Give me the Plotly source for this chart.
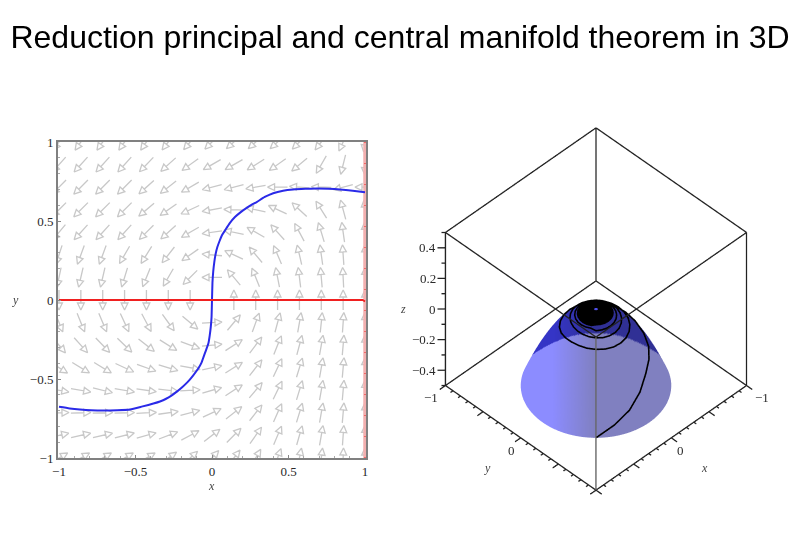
import numpy as np
import plotly.graph_objects as go

TITLE = "Reduction principal and central manifold theorem in 3D"
GRID = [-1 + i / 7 for i in range(15)]
GRID_Y = GRID[::-1]
ARROW_ANGLES = [
 [235,235,235,235,235,232,230,225,222,222,222,225,232,245,262],
 [228,228,228,228,226,222,216,210,210,212,215,220,240,256,268],
 [225,225,225,225,222,218,210,195,195,190,180,175,178,195,180],
 [225,225,225,225,220,215,205,190,178,167,155,137,122,105,95],
 [230,228,228,228,225,222,210,188,168,150,132,118,107,98,92],
 [252,250,250,240,238,232,215,175,155,130,113,103,98,94,90],
 [258,257,257,253,248,240,225,180,130,112,101,97,95,93,90],
 [270,270,270,270,270,270,270,None,90,90,90,90,90,90,90],
 [292,292,293,295,298,306,320,3,50,70,75,80,84,86,90],
 [310,312,314,316,322,328,340,6,33,53,68,75,80,85,90],
 [328,329,329,335,340,343,350,12,32,52,65,73,80,85,90],
 [350,350,346,350,352,353,3,16,33,50,64,73,80,85,90],
 [2,2,2,2,3,8,15,25,38,52,66,73,80,85,90],
 [13,13,13,14,15,21,28,38,45,55,67,74,80,86,90],
 [30,30,30,30,30,35,42,48,52,60,70,78,83,88,90],
]
BLUE_X = [-1,-0.93,-0.863,-0.79,-0.71,-0.62,-0.536,-0.46,-0.383,-0.34,-0.3,-0.265,-0.23,-0.195,-0.16,-0.125,-0.09,-0.07,-0.055,-0.04,-0.024,-0.015,-0.008,-0.003,0,
          0.003,0.008,0.015,0.024,0.035,0.05,0.065,0.085,0.115,0.15,0.19,0.227,0.26,0.292,0.345,0.4,0.465,0.53,0.61,0.684,0.76,0.837,0.92,1]
BLUE_Y = [-0.676,-0.686,-0.693,-0.698,-0.70,-0.698,-0.693,-0.675,-0.655,-0.642,-0.625,-0.605,-0.58,-0.552,-0.52,-0.48,-0.434,-0.40,-0.36,-0.32,-0.276,-0.225,-0.17,-0.11,0,
          0.11,0.18,0.24,0.293,0.335,0.375,0.41,0.44,0.485,0.525,0.558,0.583,0.603,0.62,0.652,0.676,0.692,0.70,0.704,0.705,0.704,0.70,0.692,0.682]
RED_X = [-1, 0.985, 1]
RED_Y = [0, 0, -0.01]
EDGE_X = [1, 1]
EDGE_Y = [-1, 1]
TICKS_2D = [-1, -0.5, 0, 0.5, 1]
TICK_TEXT_2D = ["\u22121", "\u22120.5", "0", "0.5", "1"]

PROFILE_R = [0,.01,.02,.03,.04,.05,.06,.07,.08,.09,.10,.11,.12,.13,.14,.15,.16,.17,.18,.19,.20,.21,.22,.23,.24,.25,.26,.27,.28,.29,
             .30,.31,.32,.33,.34,.35,.36,.37,.38,.39,.40,.41,.42,.43,.44,.45,.46,.47,.48,.49,.50,.51,.52,.53,.54,.55,.56,.57,.58,.59,
             .60,.61,.62,.63,.64,.65,.66,.67,.68,.69,.70,.707]
PROFILE_Z = [0,-.0001,-.0004,-.0009,-.0016,-.0025,-.0036,-.0049,-.0064,-.0081,-.01,-.0121,-.0144,-.0169,-.0196,-.0225,-.0256,-.0289,-.0324,-.0361,
             -.04,-.0441,-.0484,-.0529,-.0576,-.0625,-.0676,-.0729,-.0784,-.0841,-.09,-.0961,-.1024,-.1089,-.1156,-.1225,-.1296,-.1369,-.1444,-.1521,
             -.16,-.1681,-.1764,-.1849,-.1936,-.2025,-.2116,-.2209,-.2304,-.2401,-.25,-.2601,-.2704,-.2809,-.2916,-.3025,-.3136,-.3249,-.3364,-.3481,
             -.36,-.3721,-.3844,-.3969,-.4096,-.4225,-.4356,-.4489,-.4624,-.4761,-.49,-.5]
TRAJ_R = [.707,.668,.630,.585,.54,.515,.495,.465,.425,.395,.375,.362,.356,.354,.352,.350,.348,.346,.344,.338,.330,.324,.322,.324,
          .326,.329,.331,.330,.328,.323,.318,.313,.306,.300,.295,.290,.285,.278,.270,.262,.254,.248,.245,.243,.243,.245,.248,.252,
          .255,.258,.258,.256,.252,.246,.240,.235,.230,.226,.222,.219,.216,.213,.210,.207,.204,.202,.200,.198,.196,.194,.192,.190,
          .206,.204,.202,.200,.198,.196,.194,.192,.190,.188,.186,.184,.182,.180,.178,.177,.176,.175,.174,.173,.172,.171,.170,.169]
CORE_R = [.160,.153,.147,.141,.135,.129,.123,.117,.111,.105,.099,.093,.087,.081,.075,.069,.063,.057,.051,.045,.039,.033,.027]
Z_TICKS = [-0.4, -0.2, 0, 0.2, 0.4]
Z_TEXT = ["\u22120.4", "\u22120.2", "0", "0.2", "0.4"]

SERIF = "Liberation Serif"
TEXTC = "#2a2a2a"

L, R, T, B = 58, 366, 142, 458
XR = [-1.0065, 1.0065]
YR = [-1.0, 1.0]
sx = (R - L) / (XR[1] - XR[0])
sy = (B - T) / (YR[1] - YR[0])
HALF, HL, HW = 10.0, 7.0, 3.4


def arrow_paths():
    xs, ys = [], []
    for row, y0 in zip(ARROW_ANGLES, GRID_Y):
        for ang, x0 in zip(row, GRID):
            if ang is None:
                continue
            c, s = np.cos(np.radians(ang)), np.sin(np.radians(ang))
            P = lambda u, v: (x0 + (u * c - v * s) / sx, y0 + (u * s + v * c) / sy)
            pts = [P(-HALF, 0), P(HALF - HL, 0), P(HALF - HL, HW), P(HALF, 0), P(HALF - HL, -HW), P(HALF - HL, 0)]
            for p in pts:
                xs.append(p[0]); ys.append(p[1])
            xs.append(None); ys.append(None)
    return xs, ys


fig = go.Figure()
ax, ay = arrow_paths()
fig.add_trace(go.Scatter(x=ax, y=ay, mode="lines", line=dict(color="#c8c8c8", width=1.3), hoverinfo="skip"))
fig.add_trace(go.Scatter(x=EDGE_X, y=EDGE_Y, mode="lines", line=dict(color="#f3b0b0", width=3.5), hoverinfo="skip"))
fig.add_trace(go.Scatter(x=EDGE_X, y=EDGE_Y, mode="lines", line=dict(color="#ee2222", width=1, dash="1px 20px"), hoverinfo="skip"))
fig.add_trace(go.Scatter(x=BLUE_X, y=BLUE_Y, mode="lines", line=dict(color="#2a2ae8", width=2, shape="spline", smoothing=0.5), hoverinfo="skip"))
fig.add_trace(go.Scatter(x=RED_X, y=RED_Y, mode="lines", line=dict(color="#f02020", width=1.8), hoverinfo="skip"))

PHI = np.radians(np.arange(0, 360, 1.0))
rr = np.array(PROFILE_R); zz = np.array(PROFILE_Z)
Rg, Pg = np.meshgrid(rr, PHI, indexing="ij")
Zg = np.repeat(zz[:, None], len(PHI), axis=1)
Ag = Rg * np.sin(Pg); Bg = Rg * np.cos(Pg)
Xg = (Bg - Ag) / np.sqrt(2); Yg = (Ag + Bg) / np.sqrt(2)
PY = 309 + 74.2 * Bg - 152 * Zg
dark = PY < (333 + 60 * Ag ** 2)
t = np.clip((Ag + 0.40) / 0.40, 0, 1)
cr = 140 + (128 - 140) * t
cg = cr
cb = 255 + (192 - 255) * t
cols = []
for i in range(Rg.shape[0]):
    for j in range(Rg.shape[1]):
        f = 0.38 if dark[i, j] else 1
        fb = 0.78 if dark[i, j] else 1
        if Rg[i, j] < 0.02:
            cols.append("rgb(80,80,235)")
        else:
            cols.append(f"rgb({int(cr[i,j]*f)},{int(cg[i,j]*f)},{int(cb[i,j]*fb)})")
nr, np_ = Rg.shape
I, J, K = [], [], []
for i in range(nr - 1):
    for j in range(np_):
        a = i * np_ + j; b = i * np_ + (j + 1) % np_
        c = (i + 1) * np_ + j; d = (i + 1) * np_ + (j + 1) % np_
        I += [a, b]; J += [c, c]; K += [b, d]
fig.add_trace(go.Mesh3d(x=Xg.ravel(), y=Yg.ravel(), z=Zg.ravel(), i=I, j=J, k=K, vertexcolor=cols,
                        flatshading=False, lighting=dict(ambient=1, diffuse=0, specular=0, fresnel=0),
                        hoverinfo="skip", showscale=False, scene="scene"))

phi_t = np.radians(np.arange(len(TRAJ_R)) * 15.0)
r_t = np.array(TRAJ_R)
ring_ang = np.radians(np.arange(0, 360, 15.0))
phi_all = list(phi_t); r_all = list(r_t)
for rv in CORE_R:
    for an in ring_ang:
        phi_all.append(an); r_all.append(rv)
phi_all = np.array(phi_all); r_all = np.array(r_all)
a_t = r_all * np.sin(phi_all); b_t = r_all * np.cos(phi_all)
PUSH = np.array([1, 1, 0.683]) * 0.15
fig.add_trace(go.Scatter3d(x=(b_t - a_t) / np.sqrt(2) + PUSH[0], y=(a_t + b_t) / np.sqrt(2) + PUSH[1], z=-r_all ** 2 + PUSH[2], mode="lines",
                           line=dict(color="black", width=3.2), hoverinfo="skip", scene="scene"))

V = lambda x, y, z: (x, y, z)
edges_black = [
    (V(-1,-1,-.5), V(-1,-1,.5)), (V(-1,-1,.5), V(1,-1,.5)), (V(-1,-1,.5), V(-1,1,.5)),
    (V(1,1,.5), V(1,-1,.5)), (V(1,1,.5), V(-1,1,.5)), (V(1,-1,.5), V(1,-1,-.5)),
    (V(-1,1,.5), V(-1,1,-.5)), (V(-1,-1,-.5), V(1,-1,-.5)), (V(-1,-1,-.5), V(-1,1,-.5)),
    (V(1,-1,-.5), V(1,1,-.5)), (V(-1,1,-.5), V(1,1,-.5)),
]
bx, by, bz = [], [], []
for p, q in edges_black:
    bx += [p[0], q[0], None]; by += [p[1], q[1], None]; bz += [p[2], q[2], None]
for i in range(-10, 11):
    v = i / 10
    ln = 0.076 if i % 5 == 0 else 0.033
    bx += [v, v, None]; by += [1, 1 + ln, None]; bz += [-.5, -.5, None]
    bx += [1, 1 + ln, None]; by += [v, v, None]; bz += [-.5, -.5, None]
for i in range(-5, 6):
    v = i / 10
    ln = 0.053 if i % 2 == 0 else 0.026
    bx += [1, 1 + ln, None]; by += [-1, -1 - ln, None]; bz += [v, v, None]
fig.add_trace(go.Scatter3d(x=bx, y=by, z=bz, mode="lines", line=dict(color="#222222", width=2.6), hoverinfo="skip", scene="scene"))
fig.add_trace(go.Scatter3d(x=[1, 1], y=[1, 1], z=[.5, -.5], mode="lines", line=dict(color="#666666", width=2.8), hoverinfo="skip", scene="scene"))

sc_font = dict(family=SERIF, size=13, color=TEXTC)
it_font = dict(family=SERIF, size=12, color="#444444")
scene_ann = []
for v, tx in zip(Z_TICKS, Z_TEXT):
    scene_ann.append(dict(x=1, y=-1, z=v, text=tx, showarrow=False, xanchor="right", xshift=-7, font=sc_font))
scene_ann += [
    dict(x=1, y=-1, z=-.5, text="\u22121", showarrow=False, xshift=-14, yshift=-12, font=sc_font),
    dict(x=-1, y=1, z=-.5, text="\u22121", showarrow=False, xshift=15, yshift=-12, font=sc_font),
    dict(x=1, y=0, z=-.5, text="0", showarrow=False, xshift=-9, yshift=-13, font=sc_font),
    dict(x=0, y=1, z=-.5, text="0", showarrow=False, xshift=9, yshift=-13, font=sc_font),
    dict(x=1, y=0, z=-.5, text="<i>y</i>", showarrow=False, xshift=-33, yshift=-30, font=it_font),
    dict(x=0, y=1, z=-.5, text="<i>x</i>", showarrow=False, xshift=33, yshift=-30, font=it_font),
    dict(x=1, y=-1, z=0, text="<i>z</i>", showarrow=False, xshift=-42, font=it_font),
]

hidden = dict(visible=False, showspikes=False)
ax2d = dict(tickvals=TICKS_2D, ticktext=TICK_TEXT_2D, ticks="inside", ticklen=3, automargin=False,
            tickcolor="#888888", showgrid=False, zeroline=False, showline=True, mirror=True, linecolor="#808080", linewidth=2,
            tickfont=dict(family=SERIF, size=13, color=TEXTC),
            minor=dict(dtick=0.1, ticks="inside", ticklen=2, tickcolor="#aaaaaa", showgrid=False))
ASPECT = 1.31
fig.update_layout(
    width=794, height=560, autosize=False, margin=dict(l=0, r=0, t=0, b=0),
    paper_bgcolor="white", plot_bgcolor="white", showlegend=False,
    title=dict(text=TITLE, x=400 / 794, xanchor="center", y=1 - 37 / 560, yanchor="middle",
               font=dict(family="Liberation Sans", size=32, color="black"), automargin=False),
    xaxis=dict(domain=[L / 794, R / 794], range=XR, **ax2d),
    yaxis=dict(domain=[1 - B / 560, 1 - T / 560], range=YR, **ax2d),
    scene=dict(
        domain=dict(x=[(596 - 195) / 794, (596 + 195) / 794], y=[(251 - 195) / 560, (251 + 195) / 560]),
        xaxis=dict(range=[-1.2, 1.2], **hidden), yaxis=dict(range=[-1.2, 1.2], **hidden), zaxis=dict(range=[-.6, .6], **hidden),
        aspectmode="manual", aspectratio=dict(x=ASPECT, y=ASPECT, z=ASPECT),
        camera=dict(eye=dict(x=0.744, y=0.744, z=1.017), up=dict(x=0, y=0, z=1), center=dict(x=0, y=0, z=0),
                    projection=dict(type="orthographic")),
        annotations=scene_ann, bgcolor="white",
    ),
    annotations=[
        dict(text="<i>x</i>", x=211 / 794, y=1 - 486 / 560, xref="paper", yref="paper", xanchor="center", yanchor="middle", showarrow=False, font=it_font),
        dict(text="<i>y</i>", x=15 / 794, y=1 - 300 / 560, xref="paper", yref="paper", xanchor="center", yanchor="middle", showarrow=False, font=it_font),
    ],
)
fig.write_html("out.html", config=dict(displayModeBar=False),
               post_script="document.body.style.margin='0';document.documentElement.style.overflow='hidden';")
